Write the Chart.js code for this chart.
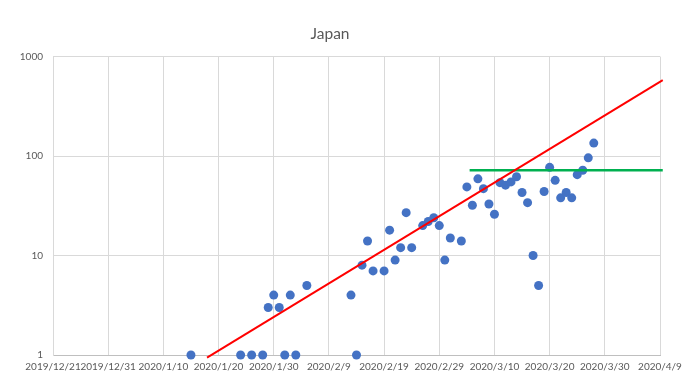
<!DOCTYPE html>
<html>
<head>
<meta charset="utf-8">
<script src="https://cdn.jsdelivr.net/npm/chart.js@4.4.1/dist/chart.umd.min.js"></script>
<style>
  html, body { margin: 0; padding: 0; background: #fff; }
  #wrap { width: 692px; height: 385px; }
</style>
</head>
<body>
<div id="wrap"><canvas id="japanChart" width="692" height="385"></canvas></div>
<script>
// Dati
const startDate = '2019/12/21';
const endDate = '2020/4/9';

const dates = ['2020/1/15', '2020/1/24', '2020/1/26', '2020/1/28', '2020/1/29', '2020/1/30', '2020/1/31',
  '2020/2/1', '2020/2/2', '2020/2/3', '2020/2/5', '2020/2/13', '2020/2/14', '2020/2/15', '2020/2/16',
  '2020/2/17', '2020/2/19', '2020/2/20', '2020/2/21', '2020/2/22', '2020/2/23', '2020/2/24', '2020/2/26',
  '2020/2/27', '2020/2/28', '2020/2/29', '2020/3/1', '2020/3/2', '2020/3/4', '2020/3/5', '2020/3/6',
  '2020/3/7', '2020/3/8', '2020/3/9', '2020/3/10', '2020/3/11', '2020/3/12', '2020/3/13', '2020/3/14',
  '2020/3/15', '2020/3/16', '2020/3/17', '2020/3/18', '2020/3/19', '2020/3/20', '2020/3/21', '2020/3/22',
  '2020/3/23', '2020/3/24', '2020/3/25', '2020/3/26', '2020/3/27', '2020/3/28'];
const cases = [1, 1, 1, 1, 3, 4, 3,
  1, 4, 1, 5, 4, 1, 8, 14,
  7, 7, 18, 9, 12, 27, 12, 20,
  22, 24, 20, 9, 15, 14, 49, 32,
  59, 47, 33, 26, 54, 51, 55, 62,
  43, 34, 10, 5, 44, 77, 57, 38,
  43, 38, 65, 72, 96, 135];

// Linea di tendenza (rossa) e livello (verde)
const trendDates = ['2020/1/17 22:00', '2020/4/9 12:00'];
const trendValues = [0.94, 580];
const levelDates = ['2020/3/5 12:00', '2020/4/9 12:00'];
const levelValues = [72, 72];

const xTickLabels = ['2019/12/21', '2019/12/31', '2020/1/10', '2020/1/20', '2020/1/30', '2020/2/9',
  '2020/2/19', '2020/2/29', '2020/3/10', '2020/3/20', '2020/3/30', '2020/4/9'];
const yTicks = [1, 10, 100, 1000];

// giorni dal primo giorno dell'asse
const t0 = new Date(startDate).getTime();
function dayOf(s) {
  return (new Date(s).getTime() - t0) / 86400000;
}
function toPoints(ds, vs) {
  return ds.map((d, i) => ({ x: dayOf(d), y: vs[i] }));
}

const textColor = '#595959';
const gridColor = '#d9d9d9';

const ctx = document.getElementById('japanChart').getContext('2d');
const japanChart = new Chart(ctx, {
  type: 'scatter',
  data: {
    datasets: [{
      label: 'cases',
      data: toPoints(dates, cases),
      backgroundColor: '#4472C4',
      borderColor: '#4472C4',
      borderWidth: 0,
      pointRadius: 4.5,
      clip: false,
      order: 3
    }, {
      label: 'trend',
      data: toPoints(trendDates, trendValues),
      showLine: true,
      borderColor: '#FF0000',
      borderWidth: 2,
      pointRadius: 0,
      clip: false,
      order: 1
    }, {
      label: 'level',
      data: toPoints(levelDates, levelValues),
      showLine: true,
      borderColor: '#00B050',
      borderWidth: 2.5,
      pointRadius: 0,
      clip: false,
      order: 2
    }]
  },
  options: {
    responsive: false,
    animation: false,
    layout: { padding: { left: 0, right: 32, top: 0, bottom: 0 } },
    plugins: {
      legend: { display: false },
      tooltip: { enabled: false },
      title: {
        display: true,
        text: 'Japan',
        color: textColor,
        font: { family: 'Lato', size: 15.5, weight: 'normal' },
        padding: { top: 25, bottom: 13 }
      }
    },
    scales: {
      x: {
        type: 'linear',
        min: 0,
        max: dayOf(endDate),
        afterBuildTicks: axis => {
          axis.ticks = xTickLabels.map(l => ({ value: dayOf(l) }));
        },
        ticks: {
          autoSkip: false,
          maxRotation: 0,
          padding: 6,
          color: textColor,
          font: { family: 'Lato', size: 10 },
          callback: (v, i) => xTickLabels[i]
        },
        grid: { color: gridColor, drawTicks: false },
        border: { color: '#bfbfbf' },
        afterFit: axis => { axis.height = 30; }
      },
      y: {
        type: 'logarithmic',
        min: 1,
        max: 1000,
        afterBuildTicks: axis => {
          axis.ticks = yTicks.map(v => ({ value: v }));
        },
        ticks: {
          padding: 10,
          color: textColor,
          font: { family: 'Lato', size: 10 },
          callback: v => String(v)
        },
        grid: { color: gridColor, drawTicks: false },
        border: { color: gridColor },
        afterFit: axis => { axis.width = 53; }
      }
    }
  }
});
</script>
</body>
</html>
